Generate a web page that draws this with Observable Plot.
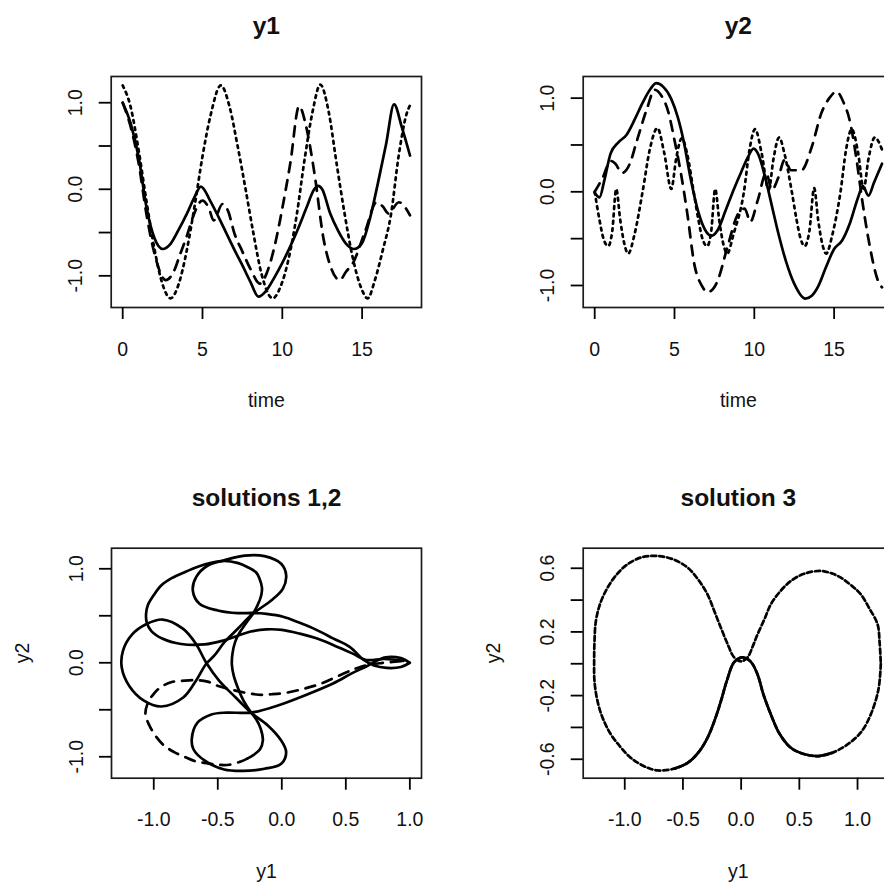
<!DOCTYPE html>
<html><head><meta charset="utf-8">
<script src="https://cdn.jsdelivr.net/npm/d3@7"></script>
<script src="https://cdn.jsdelivr.net/npm/@observablehq/plot@0.6"></script>
<style>
html,body{margin:0;padding:0;background:#fff;overflow:hidden}
#root{position:relative;width:884px;height:888px;overflow:hidden;background:#fff}
</style></head><body><div id="root"></div>
<script>
// ---------- panel "y1": y1 versus time ----------
const timeY1Sol1 = [0,0.5,1,1.5,2,2.5,3,3.5,4,4.5,4.9,5.5,6,6.5,7,7.5,8,8.5,9,9.5,10,10.5,11,11.5,12,12.25,12.5,13,13.5,14,14.5,15,15.5,16,16.5,17,17.5,18];
const y1Sol1 = [1.0,0.76,0.37,-0.22,-0.57,-0.69,-0.63,-0.47,-0.29,-0.09,0.03,-0.14,-0.32,-0.51,-0.7,-0.88,-1.07,-1.24,-1.17,-1.02,-0.85,-0.66,-0.45,-0.22,0.0,0.04,0.0,-0.28,-0.48,-0.63,-0.69,-0.62,-0.33,0.08,0.52,0.98,0.71,0.39];
const timeY1Sol2 = [0,0.5,1,1.5,2,2.7,3.2,3.6,4.0,4.4,5.0,5.4,5.7,6.25,6.6,7.0,7.5,8.0,8.6,9.0,9.5,10.0,10.5,11.05,11.5,12.0,12.6,13.0,13.6,14.0,14.4,15.2,15.9,16.3,16.65,17.3,18];
const y1Sol2 = [1.0,0.72,0.3,-0.3,-0.75,-1.05,-0.95,-0.75,-0.55,-0.32,-0.13,-0.22,-0.36,-0.17,-0.25,-0.51,-0.72,-0.92,-1.09,-0.98,-0.67,-0.22,0.3,0.96,0.72,0.2,-0.59,-0.88,-1.05,-0.95,-0.86,-0.48,-0.15,-0.2,-0.28,-0.15,-0.3];
const timeY1Sol3 = [0,0.5,1,1.5,2,2.5,3,3.5,4,4.5,5,5.5,6.15,6.7,7.2,7.7,8.2,8.7,9.4,9.9,10.4,10.9,11.4,11.9,12.38,12.9,13.4,13.9,14.4,14.9,15.35,15.8,16.3,16.8,17.3,17.8,18];
const y1Sol3 = [1.2,0.95,0.45,-0.15,-0.7,-1.1,-1.26,-1.1,-0.72,-0.2,0.38,0.85,1.2,0.95,0.5,0.0,-0.52,-0.98,-1.26,-1.12,-0.8,-0.3,0.35,0.9,1.21,0.9,0.3,-0.28,-0.78,-1.12,-1.26,-1.05,-0.7,-0.3,0.4,0.88,0.97];

// ---------- panel "y2": y2 versus time ----------
const timeY2Sol1 = [0,0.3,0.6,1.0,1.5,2.0,2.5,3.0,3.5,3.85,4.3,4.8,5.2,5.6,6.0,6.5,7.0,7.3,7.7,8.2,8.7,9.2,9.6,9.95,10.3,10.7,11.1,11.5,12.0,12.5,13.2,13.6,14.0,14.5,15.0,15.5,16.0,16.5,16.8,17.15,17.5,18];
const y2Sol1 = [-0.01,-0.06,0.12,0.41,0.53,0.61,0.77,0.95,1.1,1.16,1.12,0.99,0.8,0.52,0.15,-0.22,-0.43,-0.47,-0.41,-0.2,0.02,0.22,0.37,0.46,0.38,0.14,-0.15,-0.44,-0.75,-0.98,-1.14,-1.11,-1.01,-0.8,-0.61,-0.52,-0.33,-0.06,0.06,-0.04,0.1,0.3];
const timeY2Sol2 = [0,0.5,1.0,1.3,1.7,2.2,2.6,3.3,3.75,4.2,4.6,5.0,5.4,5.8,6.25,6.7,7.1,7.7,8.3,9.0,9.4,9.75,10.2,10.75,11.1,11.5,11.9,12.3,12.95,13.6,14.2,14.7,15.15,15.6,15.95,16.4,16.75,17.2,17.8,18];
const y2Sol2 = [0.0,0.15,0.33,0.3,0.2,0.3,0.52,0.9,1.09,1.02,0.86,0.55,0.2,-0.23,-0.78,-1.0,-1.07,-0.95,-0.6,-0.23,-0.18,-0.32,-0.1,0.2,0.02,0.15,0.34,0.23,0.23,0.48,0.84,1.0,1.07,0.95,0.78,0.35,-0.08,-0.55,-0.97,-1.02];
const timeY2Sol3 = [0,0.3,0.55,0.85,1.1,1.35,1.6,1.85,2.1,2.5,3.0,3.45,3.93,4.35,4.8,5.1,5.45,5.8,6.2,6.5,6.75,7.05,7.3,7.55,7.8,8.05,8.3,8.7,9.35,9.7,10.05,10.45,10.9,11.2,11.55,11.9,12.35,12.65,12.9,13.15,13.45,13.75,14.0,14.25,14.5,14.9,15.4,15.75,16.1,16.5,16.85,17.15,17.55,18];
const y2Sol3 = [0,-0.3,-0.5,-0.58,-0.42,0.03,-0.3,-0.55,-0.66,-0.45,0.0,0.45,0.68,0.42,0.03,0.35,0.57,0.4,0.0,-0.3,-0.5,-0.58,-0.42,0.03,-0.3,-0.55,-0.66,-0.45,0.0,0.45,0.67,0.42,0.02,0.35,0.58,0.4,0.0,-0.3,-0.5,-0.58,-0.42,0.04,-0.3,-0.55,-0.66,-0.45,0.0,0.45,0.67,0.42,0.03,0.35,0.58,0.45];

// ---------- panel "solutions 1,2": y2 versus y1 ----------
const orbit1Y1 = [1.0,0.93,0.82,0.72,0.64,0.53,0.40,0.27,0.13,0.01,-0.12,-0.23,-0.344,-0.5,-0.643,-0.695,-0.669,-0.578,-0.45,-0.29,-0.135,-0.005,0.034,0.008,-0.083,-0.227,-0.344,-0.448,-0.526,-0.59,-0.67,-0.77,-0.94,-1.08,-1.19,-1.25,-1.24,-1.17,-1.06,-0.93,-0.77,-0.67,-0.59,-0.49,-0.36,-0.24,-0.109,-0.005,0.034,-0.005,-0.135,-0.3,-0.45,-0.604,-0.69,-0.703,-0.66,-0.55,-0.43,-0.24,-0.031,0.177,0.40,0.55,0.66,0.8,0.93,1.0];
const orbit1Y2 = [0.0,-0.045,-0.055,-0.03,0.03,0.17,0.26,0.35,0.43,0.49,0.52,0.53,0.528,0.556,0.628,0.769,0.911,1.035,1.09,1.14,1.134,1.053,0.93,0.787,0.663,0.52,0.362,0.219,0.078,-0.01,-0.19,-0.37,-0.465,-0.40,-0.25,-0.05,0.13,0.30,0.41,0.46,0.36,0.2,0.0,-0.19,-0.37,-0.53,-0.667,-0.827,-0.951,-1.074,-1.128,-1.15,-1.135,-1.039,-0.92,-0.809,-0.64,-0.55,-0.53,-0.53,-0.454,-0.348,-0.22,-0.11,-0.04,0.055,0.05,0.0];
// solution 2: part of the orbit run through twice (looks solid) ...
const orbit2TwiceY1 = [0.95,0.8,0.66,0.55,0.40,0.27,0.14,0.0,-0.12,-0.25,-0.36,-0.45,-0.604,-0.786,-0.93,-1.02,-1.055,-1.06,-1.047,-1.0,-0.942,-0.86,-0.76,-0.65,-0.552,-0.45,-0.34,-0.266,-0.2,-0.174,-0.155,-0.161,-0.19,-0.227,-0.28,-0.33,-0.365,-0.385,-0.39,-0.375,-0.345,-0.3,-0.24,-0.2,-0.165,-0.148,-0.17,-0.22,-0.27];
const orbit2TwiceY2 = [0.02,0.04,0.03,0.1,0.19,0.26,0.31,0.35,0.355,0.33,0.28,0.24,0.195,0.2,0.255,0.34,0.43,0.52,0.61,0.72,0.822,0.9,0.964,1.025,1.064,1.085,1.06,1.017,0.96,0.894,0.8,0.716,0.61,0.52,0.42,0.32,0.22,0.10,-0.02,-0.14,-0.26,-0.40,-0.53,-0.6,-0.7,-0.826,-0.92,-0.98,-1.02];
// ... and the part run through once (dashed)
const orbit2OnceY1 = [-0.27,-0.32,-0.41,-0.5,-0.58,-0.67,-0.76,-0.84,-0.92,-0.99,-1.04,-1.065,-1.05,-1.0,-0.94,-0.86,-0.76,-0.66,-0.58,-0.49,-0.38,-0.28,-0.18,-0.08,0.03,0.19,0.31,0.45,0.58,0.68,0.8,0.95];
const orbit2OnceY2 = [-1.02,-1.05,-1.085,-1.085,-1.07,-1.05,-1.0,-0.95,-0.88,-0.77,-0.65,-0.55,-0.44,-0.33,-0.255,-0.205,-0.19,-0.185,-0.2,-0.25,-0.29,-0.32,-0.34,-0.335,-0.32,-0.27,-0.22,-0.135,-0.06,-0.02,0.0,0.02];

// ---------- panel "solution 3": y2 versus y1 ----------
const orbit3Y1 = [1.2,1.18,1.114,1.03,0.914,0.78,0.656,0.53,0.427,0.33,0.255,0.19,0.141,0.08,0.01,-0.06,-0.12,-0.174,-0.23,-0.289,-0.37,-0.46,-0.58,-0.718,-0.83,-0.948,-1.04,-1.119,-1.19,-1.234,-1.26,-1.263,-1.26,-1.248,-1.21,-1.148,-1.07,-0.976,-0.85,-0.718,-0.58,-0.46,-0.37,-0.289,-0.23,-0.174,-0.12,-0.06,0.0,0.055,0.1,0.141,0.2,0.255,0.33,0.427,0.54,0.67,0.77,0.857,0.95,1.028,1.1,1.172,1.19,1.2];
const orbit3Y2 = [0.0,-0.16,-0.318,-0.43,-0.507,-0.56,-0.58,-0.565,-0.528,-0.44,-0.318,-0.19,-0.067,0.015,0.04,0.01,-0.1,-0.235,-0.36,-0.465,-0.56,-0.623,-0.66,-0.67,-0.645,-0.591,-0.52,-0.444,-0.34,-0.235,-0.11,0.017,0.14,0.269,0.38,0.478,0.56,0.625,0.67,0.677,0.655,0.604,0.53,0.436,0.33,0.226,0.13,0.04,0.015,0.04,0.11,0.185,0.28,0.373,0.45,0.52,0.565,0.583,0.57,0.541,0.49,0.436,0.35,0.248,0.13,0.0];
const orbit3RepeatedFrom = 5, orbit3RepeatedTo = 23;   // lower arcs, run through many times

// ---------- ticks ----------
const timeTicks = [0, 5, 10, 15];
const y12Ticks = [-1, -0.5, 0, 0.5, 1];
const y12Labels = [-1, 0, 1];
const phaseXTicks = [-1, -0.5, 0, 0.5, 1];
const sol3YTicks = [-0.6, -0.4, -0.2, 0, 0.2, 0.4, 0.6];
const sol3YLabels = [-0.6, -0.2, 0.2, 0.6];

const FONT = "'Liberation Sans', Arial, Helvetica, sans-serif";
const rows = (xs, ys) => xs.map((x, i) => ({x, y: ys[i]}));
const fmt1 = d => d.toFixed(1);
const fmt0 = d => String(d);

const SOLID = null, DASHED = "10,8", DOTTED = "2.8,4.5";

function panel(cfg) {
  const marks = [
    Plot.frame({stroke: "#1b1b1b", strokeWidth: 1.7}),
    Plot.axisX(cfg.xTicks, {anchor: "bottom", tickSize: 12, tickFormat: () => "", strokeWidth: 1.8, label: null}),
    Plot.axisY(cfg.yTicks, {anchor: "left", tickSize: 12, tickFormat: () => "", strokeWidth: 1.8, label: null}),
    Plot.text(cfg.xLabels, {x: d => d, text: cfg.xFmt, frameAnchor: "bottom", dy: 42, fontSize: 19.5, fill: "#111", lineAnchor: "middle"}),
    Plot.text(cfg.yLabels, {y: d => d, text: cfg.yFmt, frameAnchor: "left", dx: -35, rotate: -90, fontSize: 19.5, fill: "#111", textAnchor: "middle", lineAnchor: "middle"}),
    Plot.text([cfg.title], {text: d => d, frameAnchor: "top", dy: -50.5, fontSize: 24.5, fontWeight: "bold", fill: "#111", lineAnchor: "middle"}),
    Plot.text([cfg.xTitle], {text: d => d, frameAnchor: "bottom", dy: 93.5, fontSize: 19.5, fill: "#111", lineAnchor: "middle"})
  ];
  if (cfg.yTitle) marks.push(Plot.text([cfg.yTitle], {text: d => d, frameAnchor: "left", dx: -89, rotate: -90, fontSize: 19.5, fill: "#111", lineAnchor: "middle"}));
  for (const l of cfg.lines) {
    marks.push(Plot.line(l.data, {x: "x", y: "y", stroke: "#000", strokeWidth: l.width || 2.7, strokeDasharray: l.dash || undefined, curve: l.curve, strokeLinejoin: "round"}));
  }
  const svg = Plot.plot({
    width: cfg.width, height: cfg.height,
    marginLeft: cfg.ml, marginRight: cfg.mr, marginTop: cfg.mt, marginBottom: cfg.mb,
    x: {domain: cfg.xDomain, label: null},
    y: {domain: cfg.yDomain, label: null},
    style: {fontFamily: FONT, background: "transparent", overflow: "visible"},
    marks
  });
  svg.style.position = "absolute";
  svg.style.left = cfg.left + "px";
  svg.style.top = cfg.top + "px";
  document.getElementById("root").appendChild(svg);
}

const ts = "monotone-x", ph = "catmull-rom";

panel({
  left: 0, top: 0, width: 442, height: 444, ml: 110.7, mr: 21, mt: 76, mb: 137,
  xDomain: [-0.72, 18.72], yDomain: [-1.366, 1.303],
  xTicks: timeTicks, xLabels: timeTicks, xFmt: fmt0,
  yTicks: y12Ticks, yLabels: y12Labels, yFmt: fmt1,
  title: "y1", xTitle: "time",
  lines: [
    {data: rows(timeY1Sol1, y1Sol1), dash: SOLID, curve: ts},
    {data: rows(timeY1Sol2, y1Sol2), dash: DASHED, curve: ts},
    {data: rows(timeY1Sol3, y1Sol3), dash: DOTTED, curve: ts}
  ]
});

panel({
  left: 442, top: 0, width: 470, height: 444, ml: 140.7, mr: 19, mt: 76, mb: 137,
  xDomain: [-0.72, 18.72], yDomain: [-1.235, 1.231],
  xTicks: timeTicks, xLabels: timeTicks, xFmt: fmt0,
  yTicks: y12Ticks, yLabels: y12Labels, yFmt: fmt1,
  title: "y2", xTitle: "time",
  lines: [
    {data: rows(timeY2Sol1, y2Sol1), dash: SOLID, curve: ts},
    {data: rows(timeY2Sol2, y2Sol2), dash: DASHED, curve: ts},
    {data: rows(timeY2Sol3, y2Sol3), dash: DOTTED, curve: ts}
  ]
});

panel({
  left: 0, top: 444, width: 442, height: 444, ml: 111, mr: 21, mt: 103.7, mb: 110.3,
  xDomain: [-1.33, 1.091], yDomain: [-1.228, 1.219],
  xTicks: phaseXTicks, xLabels: phaseXTicks, xFmt: fmt1,
  yTicks: y12Ticks, yLabels: y12Labels, yFmt: fmt1,
  title: "solutions 1,2", xTitle: "y1", yTitle: "y2",
  lines: [
    {data: rows(orbit2OnceY1, orbit2OnceY2), dash: DASHED, curve: ph},
    {data: rows(orbit2TwiceY1, orbit2TwiceY2), dash: SOLID, curve: ph},
    {data: rows(orbit1Y1, orbit1Y2), dash: SOLID, curve: ph}
  ]
});

panel({
  left: 442, top: 444, width: 470, height: 444, ml: 140.7, mr: 19, mt: 103.7, mb: 110.3,
  xDomain: [-1.357, 1.309], yDomain: [-0.719, 0.726],
  xTicks: phaseXTicks, xLabels: phaseXTicks, xFmt: fmt1,
  yTicks: sol3YTicks, yLabels: sol3YLabels, yFmt: fmt1,
  title: "solution 3", xTitle: "y1", yTitle: "y2",
  lines: [
    {data: rows(orbit3Y1, orbit3Y2), dash: "5,3", curve: ph},
    {data: rows(orbit3Y1.slice(orbit3RepeatedFrom, orbit3RepeatedTo), orbit3Y2.slice(orbit3RepeatedFrom, orbit3RepeatedTo)), dash: SOLID, curve: ph}
  ]
});
</script></body></html>
